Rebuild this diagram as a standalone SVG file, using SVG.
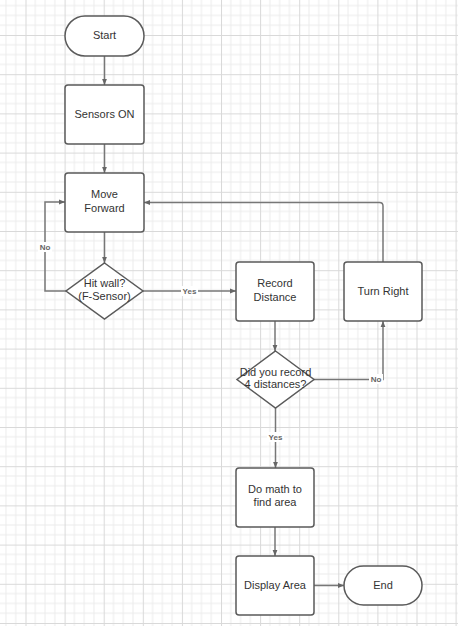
<svg xmlns="http://www.w3.org/2000/svg" width="458" height="626" viewBox="0 0 458 626">
<defs>
<pattern id="grid" patternUnits="userSpaceOnUse" x="25.5" y="35" width="39.1" height="39.2">
<rect width="39.1" height="39.2" fill="#ffffff"/>
<path d="M9.775 0V39.2M19.55 0V39.2M29.325 0V39.2M0 9.8H39.1M0 19.6H39.1M0 29.4H39.1" stroke="#ececec" stroke-width="1" fill="none"/>
<path d="M0.5 0V39.2M0 0.5H39.1" stroke="#d9d9d9" stroke-width="1" fill="none"/>
</pattern>
<marker id="arr" viewBox="0 0 10 10" refX="10" refY="5" markerWidth="6" markerHeight="6" orient="auto" markerUnits="userSpaceOnUse">
<path d="M0 1 L10 5 L0 9 Z" fill="#666666"/>
</marker>
<style>
.box{fill:#ffffff;stroke:#5a5a5a;stroke-width:1.5}
.t{font-family:"Liberation Sans",Arial,sans-serif;font-size:11px;fill:#333333;text-anchor:middle}
.c{fill:none;stroke:#777777;stroke-width:1.5}
.lbl{font-family:"Liberation Sans",Arial,sans-serif;font-size:8px;font-weight:bold;fill:#666666;text-anchor:middle}
.lb{fill:#ffffff}
</style>
</defs>
<rect x="0" y="0" width="458" height="626" fill="url(#grid)"/>

<g id="connectors">
<path class="c" d="M104.5 56V85" marker-end="url(#arr)"/>
<path class="c" d="M104.5 144V173" marker-end="url(#arr)"/>
<path class="c" d="M104.5 232V263" marker-end="url(#arr)"/>
<path class="c" d="M66 291H45V202H65" marker-end="url(#arr)"/>
<path class="c" d="M143 291H236" marker-end="url(#arr)"/>
<path class="c" d="M275 321V351" marker-end="url(#arr)"/>
<path class="c" d="M314 379.5H383V321" marker-end="url(#arr)"/>
<path class="c" d="M383 262V206Q383 202.5 379.5 202.5H144" marker-end="url(#arr)"/>
<path class="c" d="M275.5 408V468" marker-end="url(#arr)"/>
<path class="c" d="M275 527V556" marker-end="url(#arr)"/>
<path class="c" d="M314 585.5H344" marker-end="url(#arr)"/>
<rect class="lb" x="38" y="242" width="14" height="10"/>
<text class="lbl" x="45" y="250">No</text>
<rect class="lb" x="181" y="286" width="17" height="10"/>
<text class="lbl" x="189.5" y="293.5">Yes</text>
<rect class="lb" x="369" y="374" width="14" height="10"/>
<text class="lbl" x="376" y="381.5">No</text>
<rect class="lb" x="267" y="432" width="17" height="10"/>
<text class="lbl" x="275.5" y="439.5">Yes</text>
</g>

<g id="start">
<rect class="box" x="65" y="16" width="79" height="40" rx="20"/>
<text class="t" x="104.5" y="39">Start</text>
</g>
<g id="sensors">
<rect class="box" x="65" y="85" width="79" height="59" rx="3"/>
<text class="t" x="104.5" y="118">Sensors ON</text>
</g>
<g id="move">
<rect class="box" x="65" y="173" width="79" height="59" rx="3"/>
<text class="t" x="104.5" y="198">Move</text>
<text class="t" x="104.5" y="212">Forward</text>
</g>
<g id="hitwall">
<path class="box" d="M104.5 263L143 291L104.5 319L66 291Z"/>
<text class="t" x="104.5" y="287">Hit wall?</text>
<text class="t" x="104.5" y="300">(F-Sensor)</text>
</g>
<g id="record">
<rect class="box" x="236" y="262" width="78" height="59" rx="3"/>
<text class="t" x="275" y="287">Record</text>
<text class="t" x="275" y="301">Distance</text>
</g>
<g id="turn">
<rect class="box" x="344" y="262" width="78" height="59" rx="3"/>
<text class="t" x="383" y="295">Turn Right</text>
</g>
<g id="did">
<path class="box" d="M275.5 351L314 379.5L275.5 408L237 379.5Z"/>
<text class="t" x="275.5" y="375.5">Did you record</text>
<text class="t" x="275.5" y="388">4 distances?</text>
</g>
<g id="math">
<rect class="box" x="236" y="468" width="78" height="59" rx="3"/>
<text class="t" x="275" y="493">Do math to</text>
<text class="t" x="275" y="506">find area</text>
</g>
<g id="display">
<rect class="box" x="236" y="556" width="78" height="59" rx="3"/>
<text class="t" x="275" y="589">Display Area</text>
</g>
<g id="end">
<rect class="box" x="344" y="566" width="78" height="39" rx="19.5"/>
<text class="t" x="383" y="589">End</text>
</g>
</svg>
